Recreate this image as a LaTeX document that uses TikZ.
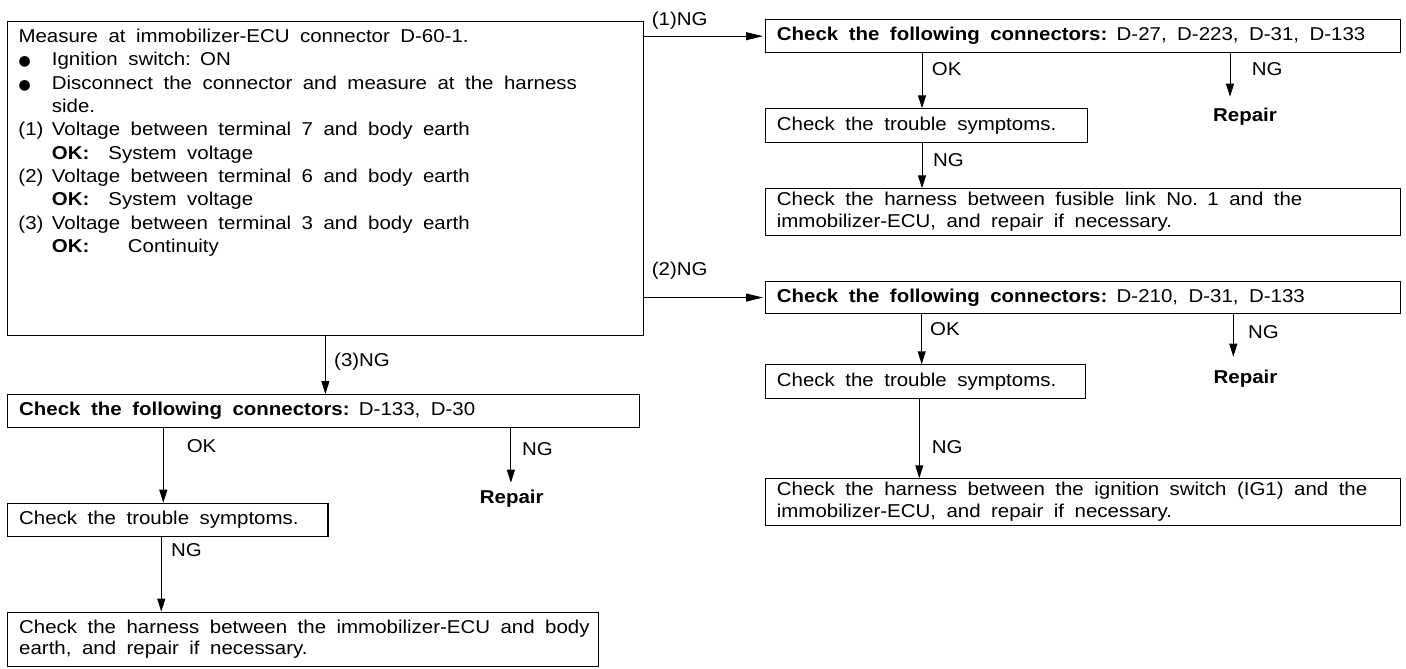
\documentclass[tikz,border=0pt]{standalone}
\usepackage{fontspec}
\setmainfont{Liberation Sans}[FakeStretch=1.1]
\newfontfamily\dotfont{DejaVu Sans}
\usetikzlibrary{arrows.meta}
\newcommand{\bul}{{\dotfont\fontsize{14}{14}\selectfont ●}}
\newcommand{\widesp}{\spaceskip=10.5pt\relax}
\tikzset{
  box/.style={draw, line width=1.1pt, inner sep=0pt, anchor=north west},
  body/.style={inner sep=0pt, anchor=base west, align=left,
    font=\fontsize{18.6}{23.3}\selectfont, execute at begin node=\widesp},
  twoline/.style={inner sep=0pt, anchor=base west, align=left, text width=620pt,
    font=\fontsize{18.6}{21.5}\selectfont, execute at begin node=\widesp},
  lbl/.style={inner sep=0pt, anchor=base west, font=\fontsize{18.6}{22}\selectfont},
  rep/.style={inner sep=0pt, anchor=base, font=\fontsize{18.6}{22}\selectfont\bfseries},
  varr/.style={draw, line width=1pt, -{Triangle[length=13pt,width=8pt]}},
  harr/.style={draw, line width=1pt, -{Triangle[length=17pt,width=8pt]}, shorten >=2pt}
}
\begin{document}
\begin{tikzpicture}[x=1pt, y=-1pt]
\fill[white] (0,0) rectangle (1406,669);
\useasboundingbox (0,0) rectangle (1406,669);

% ---- main measurement box ----
\node[box, minimum width=635.7pt, minimum height=314.3pt] (main) at (7,20.7) {};
\node[body, text width=620pt] (maintext) at ([shift={(11.3,22)}]main.north west) {%
Measure at immobilizer-ECU connector D-60-1.\\
\makebox[33.4pt][l]{\bul}Ignition switch: ON\\
\makebox[33.4pt][l]{\bul}Disconnect the connector and measure at the harness\\
\hspace*{33.4pt}side.\\
\makebox[33.4pt][l]{(1)}Voltage between terminal 7 and body earth\\
\hspace*{33.4pt}\makebox[56.6pt][l]{\bfseries OK:}System voltage\\
\makebox[33.4pt][l]{(2)}Voltage between terminal 6 and body earth\\
\hspace*{33.4pt}\makebox[56.6pt][l]{\bfseries OK:}System voltage\\
\makebox[33.4pt][l]{(3)}Voltage between terminal 3 and body earth\\
\hspace*{33.4pt}\makebox[76pt][l]{\bfseries OK:}Continuity};

% ---- branch (1) ----
\node[box, minimum width=635pt, minimum height=33.3pt] (a1) at (765,19) {};
\node[body, text width=620pt] (a1t) at ([shift={(11.7,21.7)}]a1.north west)
  {\textbf{Check the following connectors:} D-27, D-223, D-31, D-133};
\node[box, minimum width=321.7pt, minimum height=34pt] (a2) at (765,108.3) {};
\node[body, text width=300pt] (a2t) at ([shift={(11.7,21.9)}]a2.north west)
  {Check the trouble symptoms.};
\node[box, minimum width=635pt, minimum height=46.7pt] (a3) at (765,188.3) {};
\node[twoline] (a3t) at ([shift={(11.7,17.5)}]a3.north west)
  {Check the harness between fusible link No. 1 and the\\
   immobilizer-ECU, and repair if necessary.};
\node[rep] (repA) at (1245,121.5) {Repair};

% ---- branch (2) ----
\node[box, minimum width=635pt, minimum height=32.6pt] (b1) at (765,280.7) {};
\node[body, text width=620pt] (b1t) at ([shift={(11.7,21.7)}]b1.north west)
  {\textbf{Check the following connectors:} D-210, D-31, D-133};
\node[box, minimum width=320pt, minimum height=33.4pt] (b2) at (765,364.3) {};
\node[body, text width=300pt] (b2t) at ([shift={(11.7,21.7)}]b2.north west)
  {Check the trouble symptoms.};
\node[box, minimum width=635pt, minimum height=46.7pt] (b3) at (765,478.3) {};
\node[twoline] (b3t) at ([shift={(11.7,17.5)}]b3.north west)
  {Check the harness between the ignition switch (IG1) and the\\
   immobilizer-ECU, and repair if necessary.};
\node[rep] (repB) at (1245.5,383) {Repair};

% ---- branch (3) ----
\node[box, minimum width=632.3pt, minimum height=32.7pt] (c1) at (7,394) {};
\node[body, text width=600pt] (c1t) at ([shift={(12,21.7)}]c1.north west)
  {\textbf{Check the following connectors:} D-133, D-30};
\node[box, minimum width=320.4pt, minimum height=33.3pt] (c2) at (7,502.7) {};
\node[body, text width=300pt] (c2t) at ([shift={(12,21.7)}]c2.north west)
  {Check the trouble symptoms.};
\node[box, minimum width=591pt, minimum height=54pt] (c3) at (7,611.7) {};
\node[twoline] (c3t) at ([shift={(12,21.5)}]c3.north west)
  {Check the harness between the immobilizer-ECU and body\\
   earth, and repair if necessary.};
\node[rep] (repC) at (511.7,503) {Repair};

% ---- connector columns and arrow tips ----
\coordinate (xa) at (922,0);
\coordinate (xb1) at (921.7,0);
\coordinate (xb2) at (919.3,0);
\coordinate (xc1) at (163.3,0);
\coordinate (xc2) at (161.3,0);
\coordinate (x3) at (325.4,0);
\coordinate (tipA) at (1230,96.7);
\coordinate (tipB) at (1233.3,356.7);
\coordinate (tipC) at (510.9,482.7);

% ---- connectors ----
\draw[harr] (a1.west -| main.east) -- (a1.west);
\draw[harr] (b1.west -| main.east) -- (b1.west);
\draw[varr] (main.south -| x3) -- (c1.north -| x3);

\draw[varr] (a1.south -| xa) -- (a2.north -| xa);
\draw[varr] (a1.south -| tipA) -- (tipA);
\draw[varr] (a2.south -| xa) -- (a3.north -| xa);

\draw[varr] (b1.south -| xb1) -- (b2.north -| xb1);
\draw[varr] (b1.south -| tipB) -- (tipB);
\draw[varr] (b2.south -| xb2) -- (b3.north -| xb2);

\draw[varr] (c1.south -| xc1) -- (c2.north -| xc1);
\draw[varr] (c1.south -| tipC) -- (tipC);
\draw[varr] (c2.south -| xc2) -- (c3.north -| xc2);

% ---- connector labels ----
\node[lbl] (l1) at (651.7,25.3) {(1)NG};
\node[lbl] (l2) at (651.7,275) {(2)NG};
\node[lbl] (l3) at (334,366) {(3)NG};
\node[lbl] (la1) at (931.7,75) {OK};
\node[lbl] (la2) at (1251.7,75) {NG};
\node[lbl] (la3) at (933,166) {NG};
\node[lbl] (lb1) at (930,335) {OK};
\node[lbl] (lb2) at (1248,338) {NG};
\node[lbl] (lb3) at (931.7,453) {NG};
\node[lbl] (lc1) at (186.6,452.7) {OK};
\node[lbl] (lc2) at (522,455) {NG};
\node[lbl] (lc3) at (170.8,556.7) {NG};
\end{tikzpicture}
\end{document}
